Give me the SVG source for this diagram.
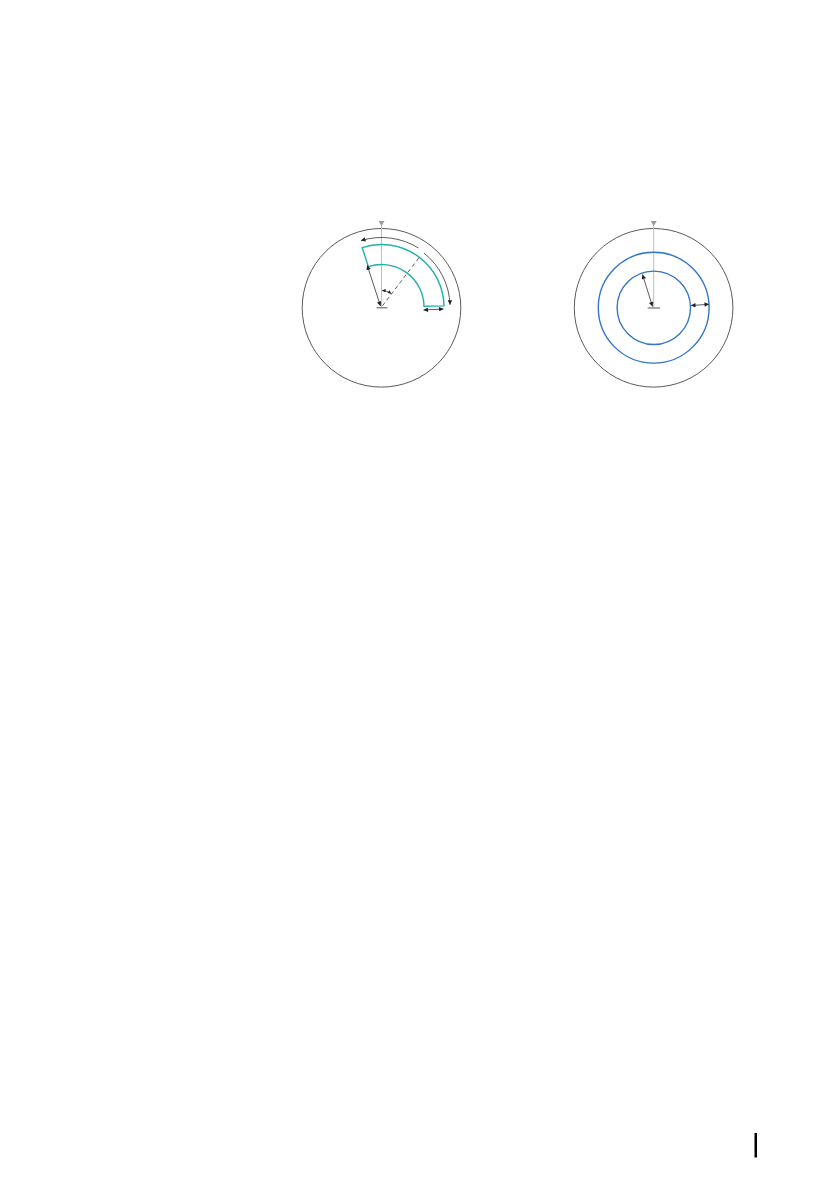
<svg xmlns="http://www.w3.org/2000/svg" width="839" height="1191" viewBox="0 0 839 1191">
<style>
.frame{fill:none;stroke:#5a5a5a;stroke-width:1}
.axis{fill:none;stroke:#bdbdbd;stroke-width:1}
.tri{fill:#9a9a9a}
.ctr{fill:none;stroke:#555;stroke-width:1}
.teal{fill:none;stroke:#22aeb0;stroke-width:1.4}
.blue{fill:none;stroke:#3475c6;stroke-width:1.4}
.arr{fill:none;stroke:#333;stroke-width:0.8}
.dash{fill:none;stroke:#333;stroke-width:0.8;stroke-dasharray:4 3}
</style>
<defs>
<marker id="ah" viewBox="0 0 6 6" refX="6" refY="3" markerWidth="5.5" markerHeight="4.5" markerUnits="userSpaceOnUse" orient="auto-start-reverse">
<path d="M0,0 L6,3 L0,6 z" fill="#222"/>
</marker>
<marker id="ahs" viewBox="0 0 6 6" refX="6" refY="3" markerWidth="4" markerHeight="3.5" markerUnits="userSpaceOnUse" orient="auto-start-reverse">
<path d="M0,0 L6,3 L0,6 z" fill="#222"/>
</marker>
</defs>
<g id="sector-diagram">
<circle class="frame" cx="381.5" cy="307.8" r="79.3"/>
<line class="axis" x1="381.5" y1="225" x2="381.5" y2="307.5"/>
<path class="tri" d="M378.5,221 L384.5,221 L381.5,226 Z"/>
<line class="ctr" x1="376.5" y1="307.8" x2="387.5" y2="307.8"/>
<path id="sector" class="teal" d="M362.2,247.6 A62.5,62.5 0 0 1 444.0,305.9 L424.0,306.3 A42.5,42.5 0 0 0 368.4,266.6 Z"/>
</g>
<g id="rings-diagram">
<circle class="frame" cx="653.6" cy="307.8" r="79.3"/>
<line class="axis" x1="653.7" y1="225" x2="653.7" y2="307.5"/>
<path class="tri" d="M650.7,221 L656.7,221 L653.7,226 Z"/>
<line class="ctr" x1="647.7" y1="308" x2="660" y2="308"/>
<circle id="ring-outer" class="blue" cx="653.7" cy="307.7" r="55.4"/>
<circle id="ring-inner" class="blue" cx="653.8" cy="307.8" r="36.7"/>
</g>
<g id="connectors">
<line class="dash" x1="382.5" y1="305.8" x2="419.7" y2="256.8"/>
<path class="arr" d="M418.6,248.1 A70,70 0 0 0 361,240.6" marker-end="url(#ah)"/>
<path class="arr" d="M424.0,253.1 A69,69 0 0 1 450.0,304.8" marker-end="url(#ah)"/>
<path class="arr" d="M382.1,290.5 A17,17 0 0 1 391.3,293.6" marker-start="url(#ahs)" marker-end="url(#ahs)"/>
<line class="arr" x1="367.2" y1="265.3" x2="380.5" y2="306" marker-start="url(#ah)" marker-end="url(#ah)"/>
<line class="arr" x1="423.5" y1="310" x2="443.5" y2="309" marker-start="url(#ah)" marker-end="url(#ah)"/>
<line class="arr" x1="642.5" y1="274.5" x2="652.5" y2="306.5" marker-start="url(#ah)" marker-end="url(#ah)"/>
<line class="arr" x1="691" y1="305.5" x2="709" y2="304.3" marker-start="url(#ah)" marker-end="url(#ah)"/>
</g>
<rect id="page-mark" x="754.5" y="1133" width="2.5" height="24.5" fill="#000"/>
</svg>
